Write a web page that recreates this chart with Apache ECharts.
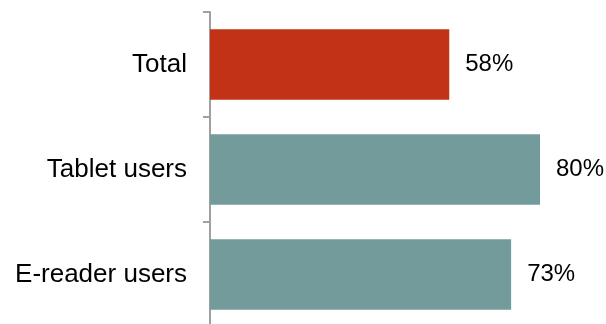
<!DOCTYPE html>
<html>
<head>
<meta charset="utf-8">
<script src="https://cdn.jsdelivr.net/npm/echarts@6/dist/echarts.min.js"></script>
<style>html,body{margin:0;padding:0;background:#fff}#c{width:606px;height:324px}</style>
</head>
<body>
<div id="c"></div>
<script>
const categories = ['Total', 'Tablet users', 'E-reader users'];
const values = [58, 80, 73];
const barColors = ['#C23216', '#739B9B', '#739B9B'];

const chart = echarts.init(document.getElementById('c'), null, {renderer: 'canvas'});
chart.setOption({
  animation: false,
  grid: {left: 210, top: 12, width: 330, height: 315, outerBoundsMode: 'none', containLabel: false},
  xAxis: {type: 'value', min: 0, max: 80, show: false},
  yAxis: {
    type: 'category', data: categories, inverse: true,
    axisLine: {show: true, lineStyle: {color: '#A0A0A0', width: 2}},
    axisTick: {show: true, length: 7, lineStyle: {color: '#A0A0A0', width: 2}},
    axisLabel: {color: '#000', fontFamily: 'Liberation Sans, Arial, sans-serif', fontSize: 26, margin: 23}
  },
  series: [{
    type: 'bar',
    data: values.map((v, i) => ({value: v, itemStyle: {color: barColors[i]}})),
    barCategoryGap: '33%',
    label: {show: true, position: 'right', distance: 16, formatter: p => p.value + '%', color: '#000', fontFamily: 'Liberation Sans, Arial, sans-serif', fontSize: 24}
  }]
});
</script>
</body>
</html>
